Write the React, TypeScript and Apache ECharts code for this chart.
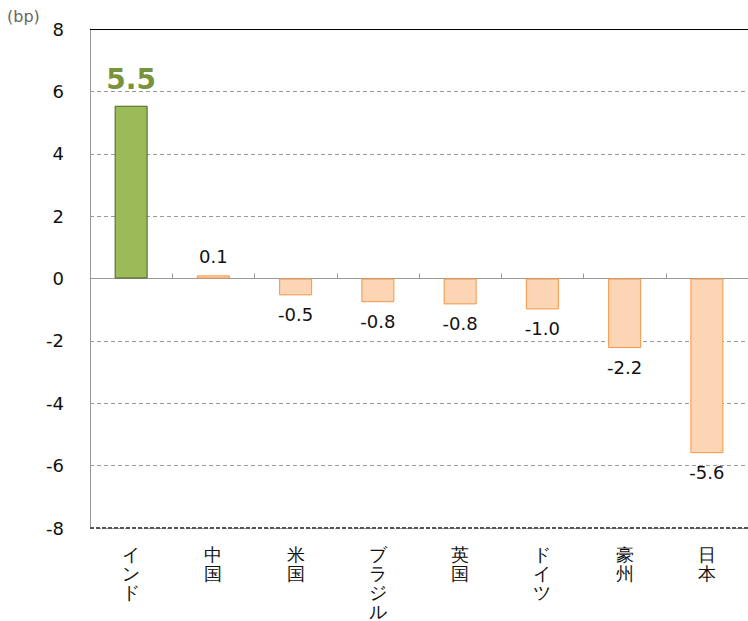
import React, { useEffect, useRef } from "react";
import * as echarts from "echarts";

const categories = ["インド", "中国", "米国", "ブラジル", "英国", "ドイツ", "豪州", "日本"];
const values = [5.54, 0.1, -0.54, -0.76, -0.83, -0.99, -2.23, -5.6];
const yTicks = { min: -8, max: 8, interval: 2 };

export default function App() {
  const ref = useRef<HTMLDivElement>(null);
  useEffect(() => {
    const chart = echarts.init(ref.current!, null, { renderer: "svg" });
    const font = "DejaVu Sans, Verdana, sans-serif";
    const data = values.map((v, i) => {
      const isIndia = i === 0;
      return {
        value: v,
        itemStyle: isIndia
          ? { color: "#9BBB59", borderColor: "#4F6228", borderWidth: 1 }
          : { color: "#FCD5B5", borderColor: "#F79646", borderWidth: 1 },
        label: isIndia
          ? {
              show: true,
              position: "top",
              distance: 12,
              color: "#77933C",
              fontSize: 28,
              fontWeight: "bold",
              fontFamily: font,
            }
          : {
              show: true,
              position: v >= 0 ? "top" : "bottom",
              distance: 10,
              color: "#111",
              fontSize: 18,
              fontFamily: font,
            },
      };
    });
    chart.setOption({
      animation: false,
      grid: { left: 90, top: 29, bottom: 90, width: 664 },
      graphic: [
        {
          type: "text",
          left: 7,
          top: 8,
          style: { text: "(bp)", fontSize: 16, fill: "#666", fontFamily: font },
        },
      ],
      xAxis: [
        {
          type: "category",
          data: categories,
          position: "bottom",
          axisLine: { show: false, onZero: false },
          axisTick: { show: false },
          axisLabel: {
            interval: 0,
            margin: 17,
            color: "#111",
            fontSize: 18,
            lineHeight: 19,
            fontFamily: font,
            verticalAlign: "top",
            formatter: (s: string) => s.split("").join("\n"),
          },
        },
        {
          type: "category",
          data: categories,
          position: "top",
          axisLine: { show: true, onZero: true, lineStyle: { color: "#999", width: 1 } },
          axisTick: { show: true, length: 5, lineStyle: { color: "#999" } },
          axisLabel: { show: false },
        },
      ],
      yAxis: {
        type: "value",
        min: yTicks.min,
        max: yTicks.max,
        interval: yTicks.interval,
        axisLine: { show: true, lineStyle: { color: "#999" } },
        axisTick: { show: false },
        axisLabel: { color: "#111", fontSize: 18, margin: 26, fontFamily: font },
        splitLine: { show: true, lineStyle: { color: "#999", type: [4, 3] } },
      },
      series: [
        {
          type: "bar",
          xAxisIndex: 0,
          data,
          barWidth: 33,
          label: { formatter: (p: any) => Number(p.value).toFixed(1) },
          markLine: {
            silent: true,
            symbol: "none",
            label: { show: false },
            data: [
              { yAxis: 8, lineStyle: { color: "#000", type: "solid", width: 1 } },
              { yAxis: -8, lineStyle: { color: "#555", type: [4, 2], width: 2 } },
            ],
          },
        },
      ],
    });
    return () => chart.dispose();
  }, []);
  return <div ref={ref} style={{ width: 748, height: 621, position: "absolute", left: 0, top: 0 }} />;
}
